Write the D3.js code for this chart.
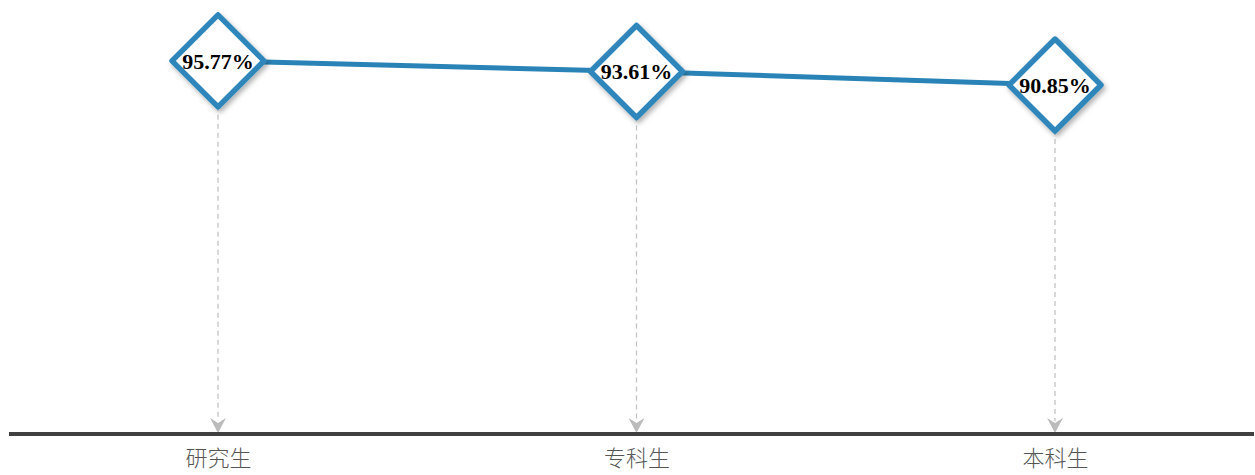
<!DOCTYPE html>
<html><head><meta charset="utf-8">
<script src="https://cdn.jsdelivr.net/npm/d3@7/dist/d3.min.js"></script>
<style>body{margin:0;background:#fff}svg{display:block}</style>
</head><body>
<svg id="c" width="1255" height="475"></svg>
<script>
const categories = ["研究生", "专科生", "本科生"];
const values = [95.77, 93.61, 90.85];
const labels = ["95.77%", "93.61%", "90.85%"];

const svg = d3.select("#c");
const x = d3.scalePoint().domain(categories).range([218, 1055]);
const y = d3.scaleLinear().domain([20, 100]).range([434, 40]);

const defs = svg.append("defs");
const f = defs.append("filter").attr("id","sh").attr("x","-30%").attr("y","-30%").attr("width","160%").attr("height","160%");
f.append("feDropShadow").attr("dx",2).attr("dy",3).attr("stdDeviation",2.5).attr("flood-color","#000").attr("flood-opacity",0.3);

// drop lines
const drops = svg.append("g").selectAll("g").data(categories).join("g");
drops.append("line")
  .attr("x1", d => x(d)).attr("x2", d => x(d))
  .attr("y1", (d,i) => y(values[i])).attr("y2", 421)
  .attr("stroke","#c4c4c4").attr("stroke-width",1.3).attr("stroke-dasharray","5,4");
drops.append("path")
  .attr("transform", d => `translate(${x(d)},433)`)
  .attr("d","M-8,-15 L0,-10 L8,-15 L0,0 Z").attr("fill","#bbbbbb");

// axis
const axis = svg.append("g").attr("transform","translate(0,434)")
  .call(d3.axisBottom(x).tickSize(0).tickPadding(16));
axis.select(".domain").remove();
axis.append("line").attr("x1",9).attr("x2",1254).attr("y1",0).attr("y2",0).attr("stroke","#404040").attr("stroke-width",4);
axis.selectAll(".tick text").attr("font-family","'Noto Sans CJK SC', sans-serif").attr("font-size",22)
  .attr("font-weight",300).attr("fill","#555");

// line
const line = d3.line().x((d,i) => x(categories[i])).y(d => y(d));
svg.append("path").datum(values).attr("d", line).attr("fill","none")
  .attr("stroke","#2a83b6").attr("stroke-width",5);

// diamonds
const r = 46;
const g = svg.append("g").selectAll("g").data(values).join("g")
  .attr("transform",(d,i) => `translate(${x(categories[i])},${y(d)})`);
g.append("path").attr("d",`M0,${-r} L${r},0 L0,${r} L${-r},0 Z`)
  .attr("fill","#fff").attr("stroke","#2e86ba").attr("stroke-width",5.5).attr("stroke-linejoin","round")
  .attr("filter","url(#sh)");
g.append("text").text((d,i) => labels[i]).attr("text-anchor","middle").attr("dy","0.35em")
  .attr("font-family","'Liberation Serif', serif").attr("font-weight","bold").attr("font-size",22).attr("fill","#000");
</script>
</body></html>
